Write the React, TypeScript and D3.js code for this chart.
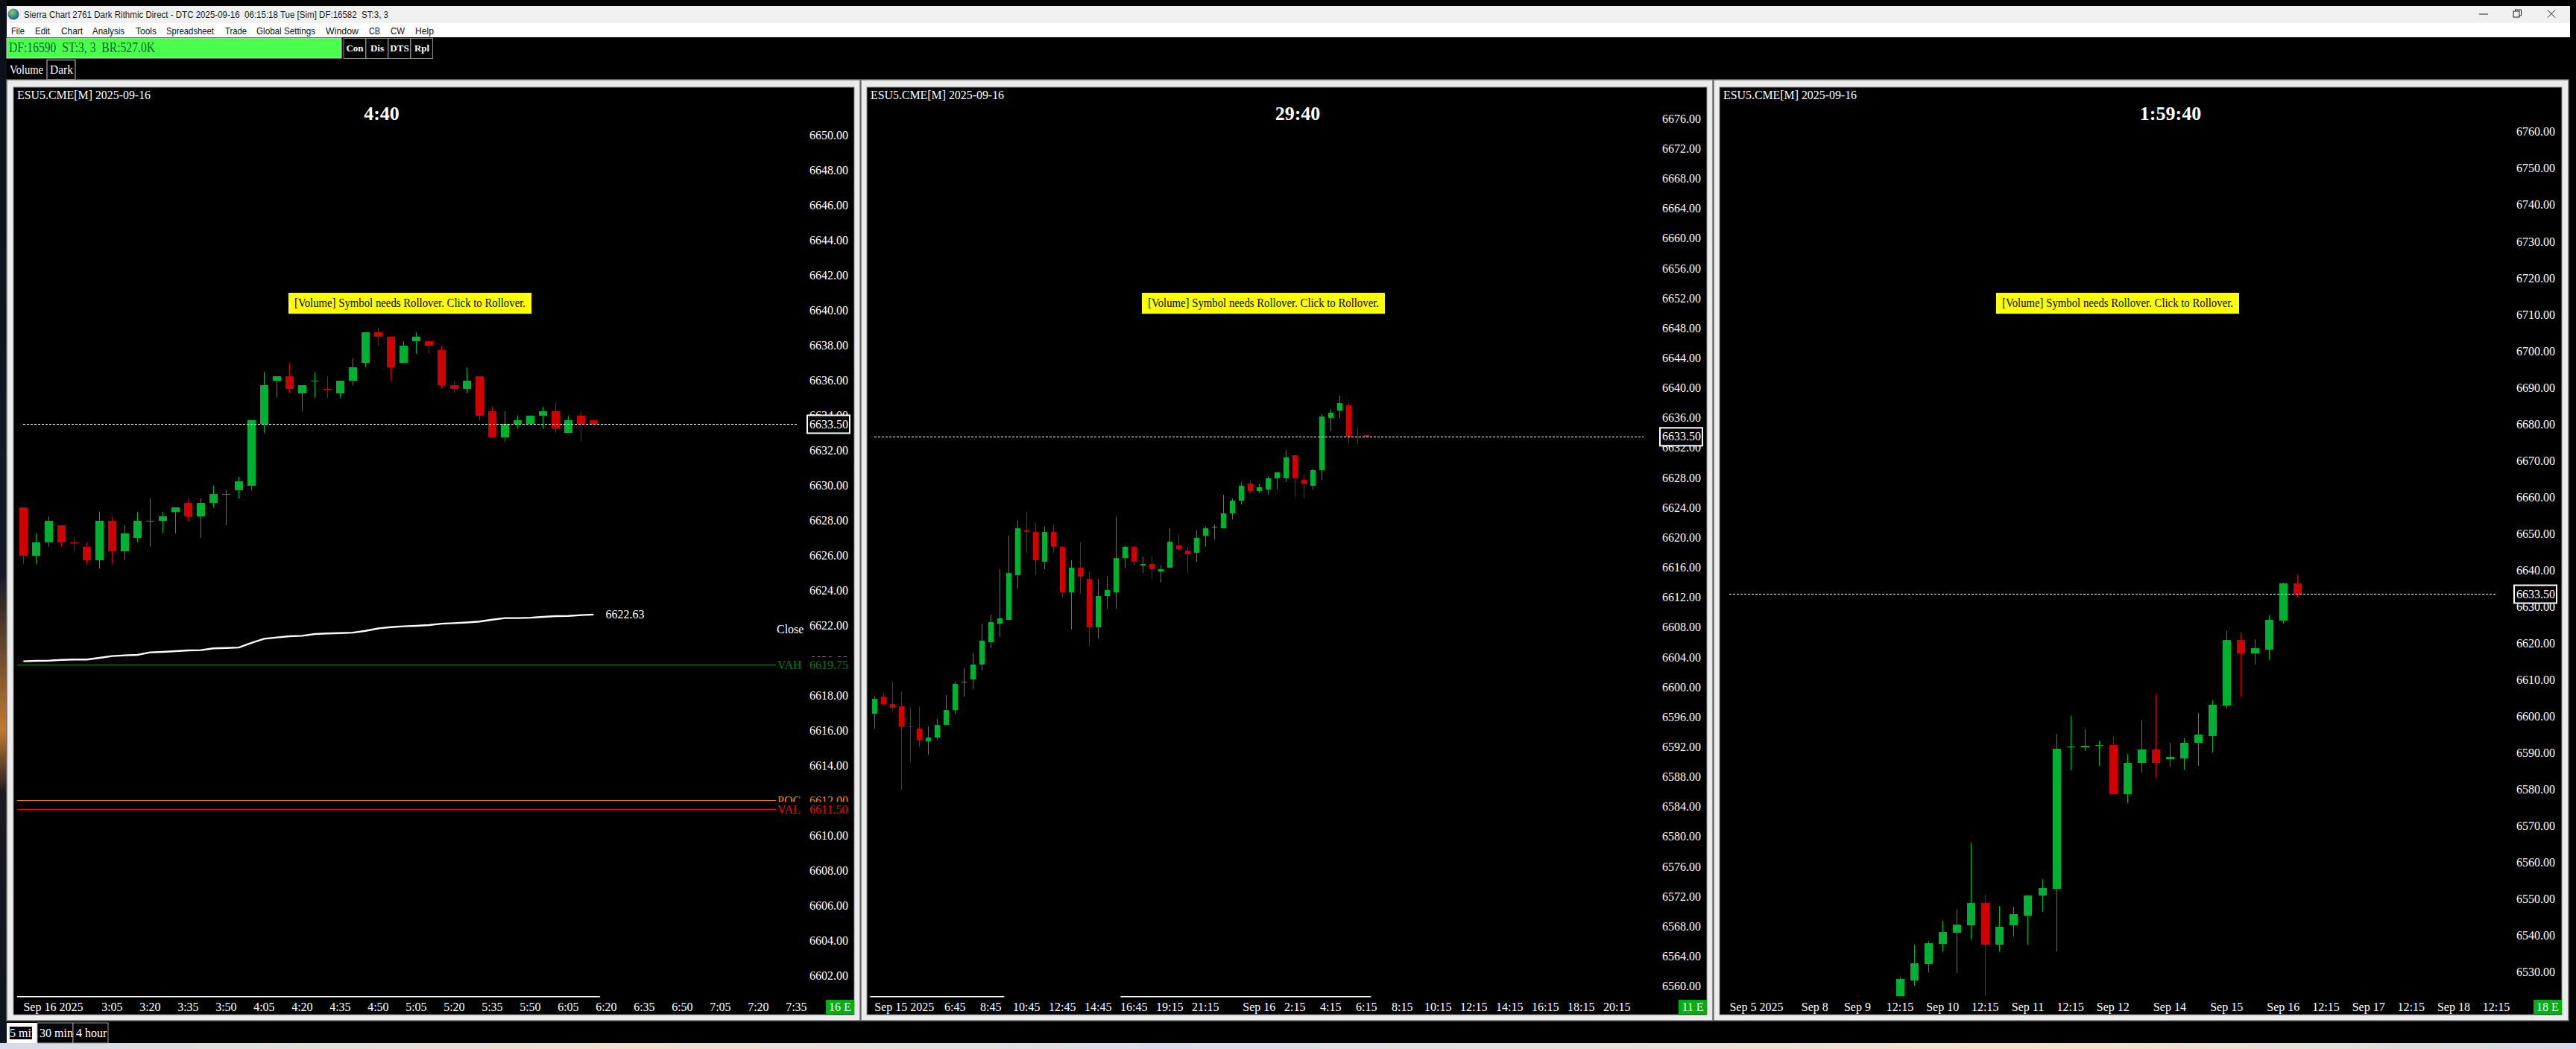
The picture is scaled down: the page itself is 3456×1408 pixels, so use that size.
import * as d3 from "d3";

const serif = "'Liberation Serif', serif";
const ui = "'Liberation Sans', sans-serif";
const green = "#00b030";
const red = "#d00000";

// 5 min chart
const fiveOpen = [6628.75, 6626, 6626.75, 6627.75, 6626.75, 6626.5, 6625.75, 6628, 6626.25, 6627, 6628, 6628, 6628.5, 6629, 6628.25, 6629, 6629.5, 6629.75, 6630, 6633.5, 6636, 6636.25, 6635.25, 6636, 6635.5, 6635.25, 6636, 6637, 6638.75, 6638.5, 6637, 6638.25, 6638.25, 6637.75, 6635.75, 6635.5, 6636.25, 6634.25, 6632.75, 6633.5, 6633.5, 6634, 6634.25, 6633, 6634, 6633.75];
const fiveHigh = [6628.75, 6627.25, 6628.25, 6627.75, 6627, 6626.75, 6628.5, 6628.25, 6627.75, 6628.5, 6629.25, 6628.5, 6628.75, 6629.25, 6629.25, 6630, 6629.75, 6630.5, 6633.75, 6636.5, 6636.25, 6637, 6635.75, 6636.5, 6636.25, 6636, 6637.25, 6638.75, 6639, 6638.5, 6638.25, 6638.75, 6638.25, 6638, 6636, 6636.75, 6636.25, 6634.5, 6634.25, 6634, 6634, 6634.5, 6634.75, 6634, 6634.25, 6633.75];
const fiveLow = [6625.5, 6625.5, 6626.5, 6626.5, 6626.25, 6625.5, 6625.25, 6625.5, 6625.75, 6626.75, 6626.5, 6627.25, 6627.25, 6628, 6627, 6628.75, 6627.75, 6629.25, 6629.75, 6633, 6635, 6635.25, 6634.25, 6635, 6635, 6635, 6635.75, 6636.75, 6638, 6636, 6637, 6637.5, 6637.5, 6635.5, 6635.25, 6635.25, 6633.75, 6632.75, 6632.5, 6633.25, 6633.5, 6633.25, 6633, 6633, 6632.5, 6633.5];
const fiveClose = [6626, 6626.75, 6628, 6626.75, 6626.75, 6625.75, 6628, 6626.25, 6627.25, 6628, 6628, 6628.25, 6628.75, 6628.25, 6629, 6629.5, 6629.5, 6630.25, 6633.75, 6635.75, 6636.25, 6635.5, 6635.75, 6636, 6635.5, 6636, 6636.75, 6638.75, 6638.5, 6636.75, 6638, 6638.5, 6638, 6635.75, 6635.5, 6636, 6634, 6632.75, 6633.5, 6633.75, 6634, 6634.25, 6633.25, 6633.75, 6633.5, 6633.5];
const fiveRedDoji = [4, 24];
const fiveAverage = [6619.96, 6619.99, 6620, 6620.04, 6620.06, 6620.06, 6620.16, 6620.26, 6620.3, 6620.33, 6620.47, 6620.5, 6620.54, 6620.58, 6620.6, 6620.7, 6620.72, 6620.75, 6621.01, 6621.25, 6621.32, 6621.39, 6621.42, 6621.52, 6621.55, 6621.57, 6621.6, 6621.7, 6621.84, 6621.91, 6621.96, 6621.99, 6622.03, 6622.11, 6622.14, 6622.18, 6622.23, 6622.34, 6622.43, 6622.43, 6622.45, 6622.5, 6622.54, 6622.55, 6622.6, 6622.63];
const fiveTimeLabels = ["3:05", "3:20", "3:35", "3:50", "4:05", "4:20", "4:35", "4:50", "5:05", "5:20", "5:35", "5:50", "6:05", "6:20", "6:35", "6:50", "7:05", "7:20", "7:35"];
const fiveTimeBars = [7, 10, 13, 16, 19, 22, 25, 28, 31, 34, 37, 40, 43, 46, 49, 52, 55, 58, 61];
const fivePriceTicks = d3.range(6602, 6651, 2);

// 30 min chart
const thirtyOpen = [6596.5, 6598.75, 6597.75, 6597.5, 6594.75, 6594.5, 6592.75, 6593.25, 6595, 6597, 6600.75, 6601, 6603, 6606, 6608.5, 6609, 6615, 6621, 6620.75, 6616.75, 6620.75, 6618.75, 6612.75, 6616, 6614.5, 6608, 6612.25, 6612.75, 6617.25, 6618.75, 6616.25, 6616.5, 6615.5, 6616, 6619, 6618.25, 6618, 6620.25, 6621.5, 6621.25, 6623.25, 6625, 6627.25, 6626.25, 6626.5, 6628, 6628, 6631, 6627.75, 6627, 6629, 6636, 6637, 6637.75, 6633.5, 6633.75];
const thirtyHigh = [6598.75, 6599.25, 6600.75, 6599.5, 6597.25, 6597.5, 6594.75, 6595.75, 6599, 6600.75, 6602.5, 6604.5, 6608.5, 6609.75, 6615.75, 6620.25, 6622.25, 6623.5, 6622, 6621.5, 6621.75, 6618.75, 6617, 6619.5, 6615.5, 6614.5, 6614.75, 6622.75, 6619, 6619, 6617.5, 6617.5, 6616.25, 6621.25, 6620.5, 6618.75, 6621, 6621.5, 6621.75, 6625.75, 6625.25, 6627.5, 6627.75, 6627.25, 6628.25, 6628.75, 6631.75, 6631, 6628.5, 6629.25, 6636.5, 6637.25, 6639, 6638, 6634.75, 6633.75];
const thirtyLow = [6594.5, 6597.5, 6596.75, 6586.25, 6590, 6592, 6591, 6593, 6595, 6596.5, 6598.75, 6599.75, 6602.25, 6605.25, 6606.75, 6609, 6613.25, 6618, 6615, 6615.75, 6618, 6612, 6607.75, 6612.5, 6605.5, 6606.5, 6610.5, 6610.5, 6616, 6616.25, 6615.25, 6614.5, 6614, 6616, 6618.25, 6615.25, 6616.75, 6618.75, 6619.75, 6621.25, 6622.5, 6624.5, 6626, 6626, 6625.75, 6626.5, 6627.5, 6625.5, 6625.25, 6626.5, 6627.75, 6634.25, 6636, 6632.5, 6632.5, 6633.5];
const thirtyClose = [6598.5, 6597.75, 6597.25, 6594.75, 6594.75, 6593, 6593.25, 6595, 6597, 6600.5, 6600.75, 6603, 6606.25, 6608.75, 6609.25, 6615.25, 6621.25, 6620.75, 6617, 6620.75, 6618.75, 6612.75, 6616, 6614.75, 6608, 6612.25, 6613, 6617.25, 6618.75, 6616.75, 6616.5, 6615.75, 6615.75, 6619.5, 6618.5, 6617.75, 6620, 6621.25, 6621.5, 6623.25, 6625, 6627, 6626.25, 6626.75, 6628, 6628.75, 6630.75, 6628, 6627.25, 6629, 6636.25, 6636.75, 6638, 6633.5, 6633.5, 6633.5];
const thirtyRedDoji = [4, 54];
const thirtyTimeLabels = ["6:45", "8:45", "10:45", "12:45", "14:45", "16:45", "19:15", "21:15", "Sep 16", "2:15", "4:15", "6:15", "8:15", "10:15", "12:15", "14:15", "16:15", "18:15", "20:15"];
const thirtyTimeBars = [9, 13, 17, 21, 25, 29, 33, 37, 43, 47, 51, 55, 59, 63, 67, 71, 75, 79, 83];
const thirtyPriceTicks = d3.range(6560, 6677, 4);

// 4 hour chart, first three bars sit under the visible range so they are estimates
const fourOpen = [6514, 6512, 6516, 6521, 6527.75, 6532.25, 6537.75, 6540.75, 6542.75, 6549, 6537.5, 6542.75, 6545.5, 6551, 6552.75, 6591.75, 6591.5, 6592, 6592.25, 6578.75, 6587.25, 6591, 6588.25, 6588.5, 6592.75, 6594.75, 6603, 6621, 6617.25, 6618.25, 6626.25, 6636.5];
const fourHigh = [6523.75, 6518, 6520, 6528.75, 6537.5, 6538.5, 6544, 6547.25, 6565.5, 6551.25, 6548.25, 6548, 6551.25, 6555.5, 6595.25, 6600.25, 6596.5, 6593.5, 6594.5, 6589.75, 6599, 6606.25, 6592.75, 6594, 6601, 6604.5, 6623.5, 6623, 6621.25, 6627.75, 6636.75, 6639];
const fourLow = [6508, 6506, 6510, 6519, 6526.25, 6530, 6535.75, 6529.75, 6539, 6522, 6535.75, 6539.75, 6537.5, 6546.5, 6535.75, 6585.25, 6590.5, 6586.5, 6578.75, 6576.25, 6584.75, 6583.25, 6586.25, 6585.5, 6586.5, 6590.25, 6602.25, 6605.5, 6614.25, 6615.5, 6625.5, 6632.5];
const fourClose = [6510, 6516, 6519, 6528.25, 6532.5, 6538, 6541, 6543, 6549, 6537.5, 6542.5, 6546, 6551, 6553, 6591.25, 6591.75, 6592, 6592.25, 6578.75, 6587.25, 6591, 6587.25, 6589, 6592.75, 6595, 6603.25, 6621, 6617.25, 6618.75, 6626.5, 6636.5, 6633.5];
const fourRedDoji: number[] = [];
const fourTimeLabels = ["Sep 8", "Sep 9", "12:15", "Sep 10", "12:15", "Sep 11", "12:15", "Sep 12", "Sep 14", "Sep 15", "Sep 16", "12:15", "Sep 17", "12:15", "Sep 18", "12:15"];
const fourTimeBars = [-3, 0, 3, 6, 9, 12, 15, 18, 22, 26, 30, 33, 36, 39, 42, 45];
const fourPriceTicks = d3.range(6530, 6761, 10);

const lastPrice = 6633.5;
const rolloverText = "[Volume] Symbol needs Rollover. Click to Rollover.";
const menuItems = ["File", "Edit", "Chart", "Analysis", "Tools", "Spreadsheet", "Trade", "Global Settings", "Window", "CB", "CW", "Help"];
const menuX = [15, 47, 82, 124, 182, 223, 302, 344, 437, 495, 524, 557];
const menuWidths = [18, 20, 29, 43, 28, 64, 29, 79, 44, 15, 19, 25];
const statusButtons = ["Con", "Dis", "DTS", "Rpl"];

function Candles({ open, high, low, close, redDoji, x, y, barWidth, clipId }: any) {
  return (
    <g clipPath={`url(#${clipId})`} shapeRendering="crispEdges">
      {open.map((o: number, i: number) => {
        const c = close[i];
        const isRed = c < o || redDoji.includes(i);
        const color = isRed ? red : green;
        const top = y(Math.max(o, c));
        const bottom = y(Math.min(o, c));
        const cx = Math.round(x(i));
        return (
          <g key={i}>
            <rect x={cx} y={y(high[i])} width={1} height={Math.max(y(low[i]) - y(high[i]), 1)} fill={color} />
            <rect x={cx - Math.floor(barWidth / 2)} y={top} width={barWidth} height={Math.max(bottom - top, 1)} fill={color} />
          </g>
        );
      })}
    </g>
  );
}

function ChartPanel(props: any) {
  const { frame, inner, clipId, x, y, priceTicks, priceX, firstLabel, firstBar, timeLabels, timeBars, lineEnd, title, titleX, bannerX, corner, headerX, barWidth, baseSegments, children } = props;
  const chartBottom = 1337;
  return (
    <g>
      <rect x={frame[0]} y={107} width={frame[1] - frame[0]} height={1263} fill="#ececec" stroke="#6e6e6e" strokeWidth={1.5} />
      <rect x={inner[0]} y={117} width={inner[1] - inner[0]} height={1245} fill="#000" stroke="#8a8a8a" strokeWidth={1} />
      <clipPath id={clipId}>
        <rect x={inner[0]} y={118} width={inner[1] - inner[0]} height={chartBottom - 118} />
      </clipPath>
      <text x={headerX} y={133} fill="#fff" fontFamily={serif} fontSize={16} textLength={179} lengthAdjust="spacingAndGlyphs">ESU5.CME[M] 2025-09-16</text>
      <text x={titleX} y={161} fill="#fff" fontFamily={serif} fontSize={26} fontWeight="bold" textAnchor="middle">{title}</text>

      {priceTicks.map((t: number) => (
        <text key={t} x={priceX} y={y(t)} dy="0.32em" fill="#fff" fontFamily={serif} fontSize={16}>{t.toFixed(2)}</text>
      ))}

      <Candles {...props} barWidth={barWidth} />

      <line x1={x(firstBar)} x2={lineEnd} y1={y(lastPrice)} y2={y(lastPrice)} stroke="#fff" strokeWidth={1} strokeDasharray="3 2" shapeRendering="crispEdges" />
      <rect x={priceX - 3} y={y(lastPrice) - 12} width={57} height={24} fill="#000" stroke="#fff" strokeWidth={2} />
      <text x={priceX} y={y(lastPrice)} dy="0.32em" fill="#fff" fontFamily={serif} fontSize={16}>{lastPrice.toFixed(2)}</text>

      <rect x={bannerX} y={393} width={326} height={28} fill="#ffff00" />
      <text x={bannerX + 8} y={407} dy="0.32em" fill="#000" fontFamily={serif} fontSize={16} textLength={310} lengthAdjust="spacingAndGlyphs">{rolloverText}</text>

      {children}

      {baseSegments.map((s: number[], i: number) => (
        <rect key={i} x={x(s[0])} y={chartBottom} width={x(s[1]) - x(s[0])} height={1.5} fill="#fff" />
      ))}
      <text x={x(firstBar)} y={1352} dy="0.32em" fill="#fff" fontFamily={serif} fontSize={16}>{firstLabel}</text>
      {timeLabels.map((label: string, i: number) => (
        <text key={i} x={x(timeBars[i])} y={1352} dy="0.32em" fill="#fff" fontFamily={serif} fontSize={16} textAnchor="middle">{label}</text>
      ))}
      <rect x={inner[1] - 38} y={1342} width={38} height={19} fill="#00b010" />
      <text x={inner[1] - 19} y={1352} dy="0.32em" fill="#fff" fontFamily={serif} fontSize={16} textAnchor="middle">{corner}</text>
    </g>
  );
}

function StudyLabel({ labelX, valueX, y, name, value, color, top, bottom }: any) {
  return (
    <g>
      <rect x={labelX - 2} y={top} width={valueX + 54 - labelX} height={bottom - top} fill="#000" />
      <line x1={23} x2={1041} y1={y} y2={y} stroke={color} strokeWidth={1.5} shapeRendering="crispEdges" />
      <text x={labelX} y={y} dy="0.32em" fill={color} fontFamily={serif} fontSize={16}>{name}</text>
      <text x={valueX} y={y} dy="0.32em" fill={color} fontFamily={serif} fontSize={16}>{value.toFixed(2)}</text>
    </g>
  );
}

export default function App() {
  const fiveX = d3.scaleLinear().domain([0, 45]).range([31.4, 796.4]);
  const fiveY = d3.scaleLinear().domain([6640, 6602]).range([416.7, 1309.7]);
  const thirtyX = d3.scaleLinear().domain([0, 55]).range([1173.3, 1833.3]);
  const thirtyY = d3.scaleLinear().domain([6633.5, 6560]).range([586.3, 1324]);
  const fourX = d3.scaleLinear().domain([0, 31]).range([2491.9, 3082.4]);
  const fourY = d3.scaleLinear().domain([6760, 6530]).range([177.3, 1305]);

  const averageLine = d3.line<number>().x((_, i) => fiveX(i)).y((d) => fiveY(d))(fiveAverage) ?? "";

  return (
    <svg width={3456} height={1408} viewBox="0 0 3456 1408" style={{ position: "fixed", left: 0, top: 0, background: "#000" }}>
      <defs>
        <linearGradient id="wallLeft" x1="0" y1="0" x2="0" y2="1">
          <stop offset="0" stopColor="#0a1018" />
          <stop offset="0.55" stopColor="#141a28" />
          <stop offset="0.7" stopColor="#c07a30" />
          <stop offset="0.76" stopColor="#1c1a20" />
          <stop offset="1" stopColor="#0c1420" />
        </linearGradient>
        <linearGradient id="wallBottom" x1="0" y1="0" x2="1" y2="0">
          <stop offset="0" stopColor="#d6dce8" />
          <stop offset="0.25" stopColor="#f0e0d0" />
          <stop offset="0.45" stopColor="#d8deea" />
          <stop offset="0.8" stopColor="#f4e4cc" />
          <stop offset="1" stopColor="#d4dae6" />
        </linearGradient>
        <radialGradient id="globe" cx="0.4" cy="0.35" r="0.7">
          <stop offset="0" stopColor="#8fd060" />
          <stop offset="0.6" stopColor="#3a8a90" />
          <stop offset="1" stopColor="#1a4a80" />
        </radialGradient>
      </defs>
      <rect x={0} y={0} width={9} height={1400} fill="url(#wallLeft)" />
      <rect x={0} y={1400} width={3456} height={8} fill="url(#wallBottom)" />

      {/* window chrome */}
      <rect x={9} y={8} width={3439} height={23} fill="#f0f0f0" />
      <circle cx={18} cy={19} r={7.5} fill="url(#globe)" />
      <text x={32} y={24} fill="#222" fontFamily={ui} fontSize={13} textLength={489} lengthAdjust="spacingAndGlyphs" style={{ whiteSpace: "pre" }}>
        Sierra Chart 2761 Dark Rithmic Direct - DTC 2025-09-16  06:15:18 Tue [Sim] DF:16582  ST:3, 3
      </text>
      <line x1={3326} x2={3338} y1={19} y2={19} stroke="#222" strokeWidth={1} />
      <rect x={3372} y={15} width={8} height={8} fill="none" stroke="#222" strokeWidth={1} />
      <path d="M3374.5 15 V13 H3382.5 V21 H3380" fill="none" stroke="#222" strokeWidth={1} />
      <path d="M3418 13.5 L3428 23.5 M3428 13.5 L3418 23.5" stroke="#222" strokeWidth={1} />
      <rect x={9} y={31} width={3439} height={19} fill="#fff" />
      {menuItems.map((item, i) => (
        <text key={item} x={menuX[i]} y={45.5} fill="#111" fontFamily={ui} fontSize={13} textLength={menuWidths[i]} lengthAdjust="spacingAndGlyphs">{item}</text>
      ))}

      <rect x={9} y={51} width={449} height={27} fill="#4cff4c" stroke="#cfcfcf" strokeWidth={1} />
      <text x={12} y={70} fill="#063" fontFamily={serif} fontSize={18} textLength={196} lengthAdjust="spacingAndGlyphs" style={{ whiteSpace: "pre" }}>DF:16590  ST:3, 3  BR:527.0K</text>
      {statusButtons.map((label, i) => (
        <g key={label}>
          <rect x={461 + i * 30} y={51.5} width={29.5} height={27} fill="#000" stroke="#888" strokeWidth={1} />
          <text x={476 + i * 30} y={65} dy="0.32em" fill="#fff" fontFamily={serif} fontSize={13} fontWeight="bold" textAnchor="middle">{label}</text>
        </g>
      ))}
      <text x={13} y={94} dy="0.32em" fill="#fff" fontFamily={serif} fontSize={17} textLength={45} lengthAdjust="spacingAndGlyphs">Volume</text>
      <rect x={63} y={80.5} width={38} height={26} fill="#000" stroke="#ccc" strokeWidth={1} />
      <text x={67} y={94} dy="0.32em" fill="#fff" fontFamily={serif} fontSize={17} textLength={31} lengthAdjust="spacingAndGlyphs">Dark</text>

      <ChartPanel
        frame={[9, 1154]}
        inner={[18, 1146]}
        clipId="clipFive"
        x={fiveX}
        y={fiveY}
        open={fiveOpen}
        high={fiveHigh}
        low={fiveLow}
        close={fiveClose}
        redDoji={fiveRedDoji}
        barWidth={11}
        priceTicks={fivePriceTicks}
        priceX={1086}
        firstBar={0}
        firstLabel="Sep 16 2025"
        timeLabels={fiveTimeLabels}
        timeBars={fiveTimeBars}
        lineEnd={1069}
        title="4:40"
        titleX={512}
        headerX={23}
        bannerX={387}
        corner="16 E"
        baseSegments={[[-0.5, 45.5]]}
      >
        <path d={averageLine} fill="none" stroke="#fff" strokeWidth={2.4} />
        <text x={fiveX(45) + 16} y={fiveY(6622.63)} dy="0.32em" fill="#fff" fontFamily={serif} fontSize={16}>6622.63</text>
        <text x={1042} y={845} dy="0.32em" fill="#fff" fontFamily={serif} fontSize={16}>Close</text>
        <StudyLabel labelX={1043} valueX={1086} y={fiveY(6619.75)} top={fiveY(6619.75) - 11} bottom={fiveY(6619.75) + 11} name="VAH" value={6619.75} color="#008000" />
        <StudyLabel labelX={1043} valueX={1086} y={fiveY(6612)} top={fiveY(6612) - 11} bottom={fiveY(6612) + 11} name="POC" value={6612} color="#ff8000" />
        <StudyLabel labelX={1043} valueX={1086} y={fiveY(6611.5)} top={fiveY(6611.5) - 10} bottom={fiveY(6611.5) + 11} name="VAL" value={6611.5} color="#ff0000" />
      </ChartPanel>

      <ChartPanel
        frame={[1155, 2298]}
        inner={[1163, 2290]}
        clipId="clipThirty"
        x={thirtyX}
        y={thirtyY}
        open={thirtyOpen}
        high={thirtyHigh}
        low={thirtyLow}
        close={thirtyClose}
        redDoji={thirtyRedDoji}
        barWidth={7}
        priceTicks={thirtyPriceTicks}
        priceX={2230}
        firstBar={0}
        firstLabel="Sep 15 2025"
        timeLabels={thirtyTimeLabels}
        timeBars={thirtyTimeBars}
        lineEnd={2205}
        title="29:40"
        titleX={1741}
        headerX={1168}
        bannerX={1532}
        corner="11 E"
        baseSegments={[[-0.5, 14.5], [27.5, 55.5]]}
      />

      <ChartPanel
        frame={[2299, 3446]}
        inner={[2307, 3437]}
        clipId="clipFour"
        x={fourX}
        y={fourY}
        open={fourOpen}
        high={fourHigh}
        low={fourLow}
        close={fourClose}
        redDoji={fourRedDoji}
        barWidth={11}
        priceTicks={fourPriceTicks}
        priceX={3376}
        firstBar={-9}
        firstLabel="Sep 5 2025"
        timeLabels={fourTimeLabels}
        timeBars={fourTimeBars}
        lineEnd={3349}
        title="1:59:40"
        titleX={2912}
        headerX={2312}
        bannerX={2678}
        corner="18 E"
        baseSegments={[]}
      />

      {/* chart tabs */}
      <rect x={9} y={1373} width={41} height={27} fill="#fff" />
      <rect x={13} y={1378} width={30} height={17} fill="#000" />
      <text x={13} y={1387} dy="0.32em" fill="#fff" fontFamily={serif} fontSize={16}>5 min</text>
      <rect x={50} y={1373} width={48} height={27} fill="#000" stroke="#999" strokeWidth={1} />
      <text x={53} y={1387} dy="0.32em" fill="#fff" fontFamily={serif} fontSize={16}>30 min</text>
      <rect x={98} y={1373} width={47} height={27} fill="#000" stroke="#999" strokeWidth={1} />
      <text x={102} y={1387} dy="0.32em" fill="#fff" fontFamily={serif} fontSize={16}>4 hour</text>
    </svg>
  );
}
